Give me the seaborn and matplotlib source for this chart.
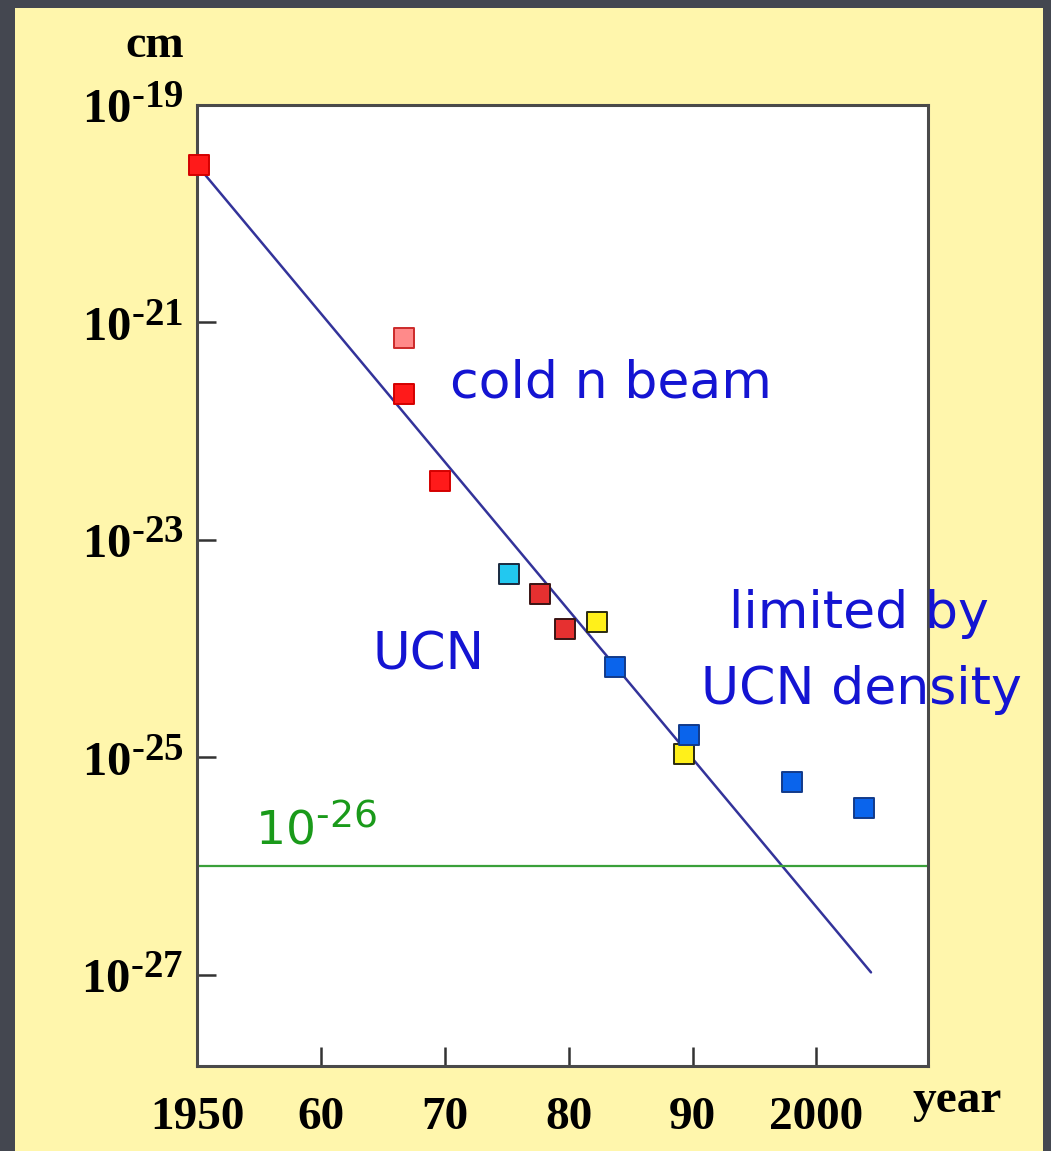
import numpy as np
import pandas as pd
import matplotlib
matplotlib.use("Agg")
import matplotlib.pyplot as plt
from matplotlib.patches import Rectangle
from matplotlib.ticker import FixedLocator, FixedFormatter, NullLocator
import seaborn as sns

try:
    import matplotlib._mathtext as _mt
    _mt.SHRINK_FACTOR = 0.8
except Exception:
    pass

# ---------------- data ----------------
years = [1950.2, 1966.7, 1966.7, 1969.6, 1975.2, 1977.7, 1979.7, 1982.3,
         1983.7, 1989.7, 1989.3, 1998.0, 2003.8]
edm_limits = [2.8e-20, 7.2e-22, 2.2e-22, 3.5e-23, 4.9e-24, 3.2e-24, 1.5e-24,
              1.75e-24, 6.8e-25, 1.6e-25, 1.07e-25, 5.9e-26, 3.4e-26]
groups = ["beam", "beam_light", "beam", "beam", "ucn_cyan", "ucn_red",
          "ucn_red", "ucn_yellow", "ucn_blue", "ucn_blue", "ucn_yellow",
          "ucn_blue", "ucn_blue"]

trend_years = [1950.0, 2004.4]
trend_values = [2.8e-20, 1.05e-27]

target_level = 1e-26

y_tick_values = [1e-19, 1e-21, 1e-23, 1e-25, 1e-27]
y_tick_labels = ["$\\mathregular{10^{\u201019}}$", "$\\mathregular{10^{\u201021}}$",
                 "$\\mathregular{10^{\u201023}}$", "$\\mathregular{10^{\u201025}}$",
                 "$\\mathregular{10^{\u201027}}$"]
x_tick_values = [1950, 1960, 1970, 1980, 1990, 2000]
x_tick_labels = ["1950", "60", "70", "80", "90", "2000"]

fill_colors = {"beam": "#ff1a1a", "beam_light": "#ff8a8a", "ucn_red": "#e63030",
               "ucn_cyan": "#22c8f0", "ucn_yellow": "#fff01a", "ucn_blue": "#0a64ec"}
edge_colors = {"beam": "#d40000", "beam_light": "#cc2a2a", "ucn_red": "#3a1414",
               "ucn_cyan": "#1a2a40", "ucn_yellow": "#2a2a10", "ucn_blue": "#123a8a"}

df = pd.DataFrame({"year": years, "edm": edm_limits, "group": groups})
trend = pd.DataFrame({"year": trend_years, "edm": trend_values})

# ---------------- figure ----------------
sns.set_theme(style="white")
plt.rcParams["font.family"] = ["DejaVu Sans"]

W, H = 1051, 1151
fig = plt.figure(figsize=(W / 100, H / 100), dpi=100)
fig.patch.set_facecolor("#444750")
fig.add_artist(Rectangle((15 / W, 0), (1043 - 15) / W, 1 - 8 / H,
                         transform=fig.transFigure, facecolor="#fff6ac",
                         edgecolor="none", zorder=0))

ax = fig.add_axes([197 / W, 1 - 1066 / H, (928 - 197) / W, (1066 - 105) / H])
ax.set_facecolor("white")
ax.set_yscale("log")

sns.lineplot(data=trend, x="year", y="edm", ax=ax, color="#33339a",
             linewidth=1.8, zorder=2)
ax.axhline(target_level, color="#3aa03a", linewidth=1.6, zorder=2)

for g in fill_colors:
    sub = df[df["group"] == g]
    sns.scatterplot(data=sub, x="year", y="edm", ax=ax, marker="s", s=215,
                    color=fill_colors[g], edgecolor=edge_colors[g],
                    linewidth=1.4, zorder=4, clip_on=False, legend=False)

ax.set_xlim(1950, 2009)
ax.set_ylim(10 ** -27.84, 1e-19)

ax.yaxis.set_major_locator(FixedLocator(y_tick_values))
ax.yaxis.set_major_formatter(FixedFormatter(y_tick_labels))
ax.yaxis.set_minor_locator(NullLocator())
ax.xaxis.set_major_locator(FixedLocator(x_tick_values))
ax.xaxis.set_major_formatter(FixedFormatter(x_tick_labels))

ax.tick_params(axis="both", which="major", direction="in", length=14,
               width=1.8, color="#333333", left=True, bottom=True,
               labelcolor="black")
ax.tick_params(axis="y", labelsize=35, pad=10)
ax.tick_params(axis="x", labelsize=34, pad=22)
for lab in ax.get_xticklabels() + ax.get_yticklabels():
    lab.set_fontfamily("Liberation Serif")
    lab.set_fontweight("bold")

for sp in ax.spines.values():
    sp.set_color("#4a4a4a")
    sp.set_linewidth(2.2)

ax.set_xlabel("")
ax.set_ylabel("")

# axis unit labels
fig.text(155 / W, 1 - 46 / H, "cm", ha="center", va="center",
         fontfamily="Liberation Serif", fontweight="bold", fontsize=33,
         color="black")
fig.text(957 / W, 1 - 1101 / H, "year", ha="center", va="center",
         fontfamily="Liberation Serif", fontweight="bold", fontsize=34,
         color="black")

# annotations
blue_txt = "#1414d2"
ax.text(1970.45, 10 ** -21.56, "cold n beam", color=blue_txt, fontsize=37.5,
        ha="left", va="center", zorder=5)
ax.text(1964.15, 10 ** -24.06, "UCN", color=blue_txt, fontsize=37,
        ha="left", va="center", zorder=5)
ax.text(1992.9, 10 ** -23.68, "limited by", color=blue_txt, fontsize=37.5,
        ha="left", va="center", zorder=5)
ax.text(1990.66, 10 ** -24.38, "UCN density", color=blue_txt, fontsize=37.5,
        ha="left", va="center", zorder=5, clip_on=False)
ax.text(1954.7, 10 ** -25.67, "$\\mathregular{10^{\u201026}}$", color="#1a9a1a",
        fontsize=34, ha="left", va="center", zorder=5)

fig.savefig("out.png", dpi=100, facecolor=fig.get_facecolor())
